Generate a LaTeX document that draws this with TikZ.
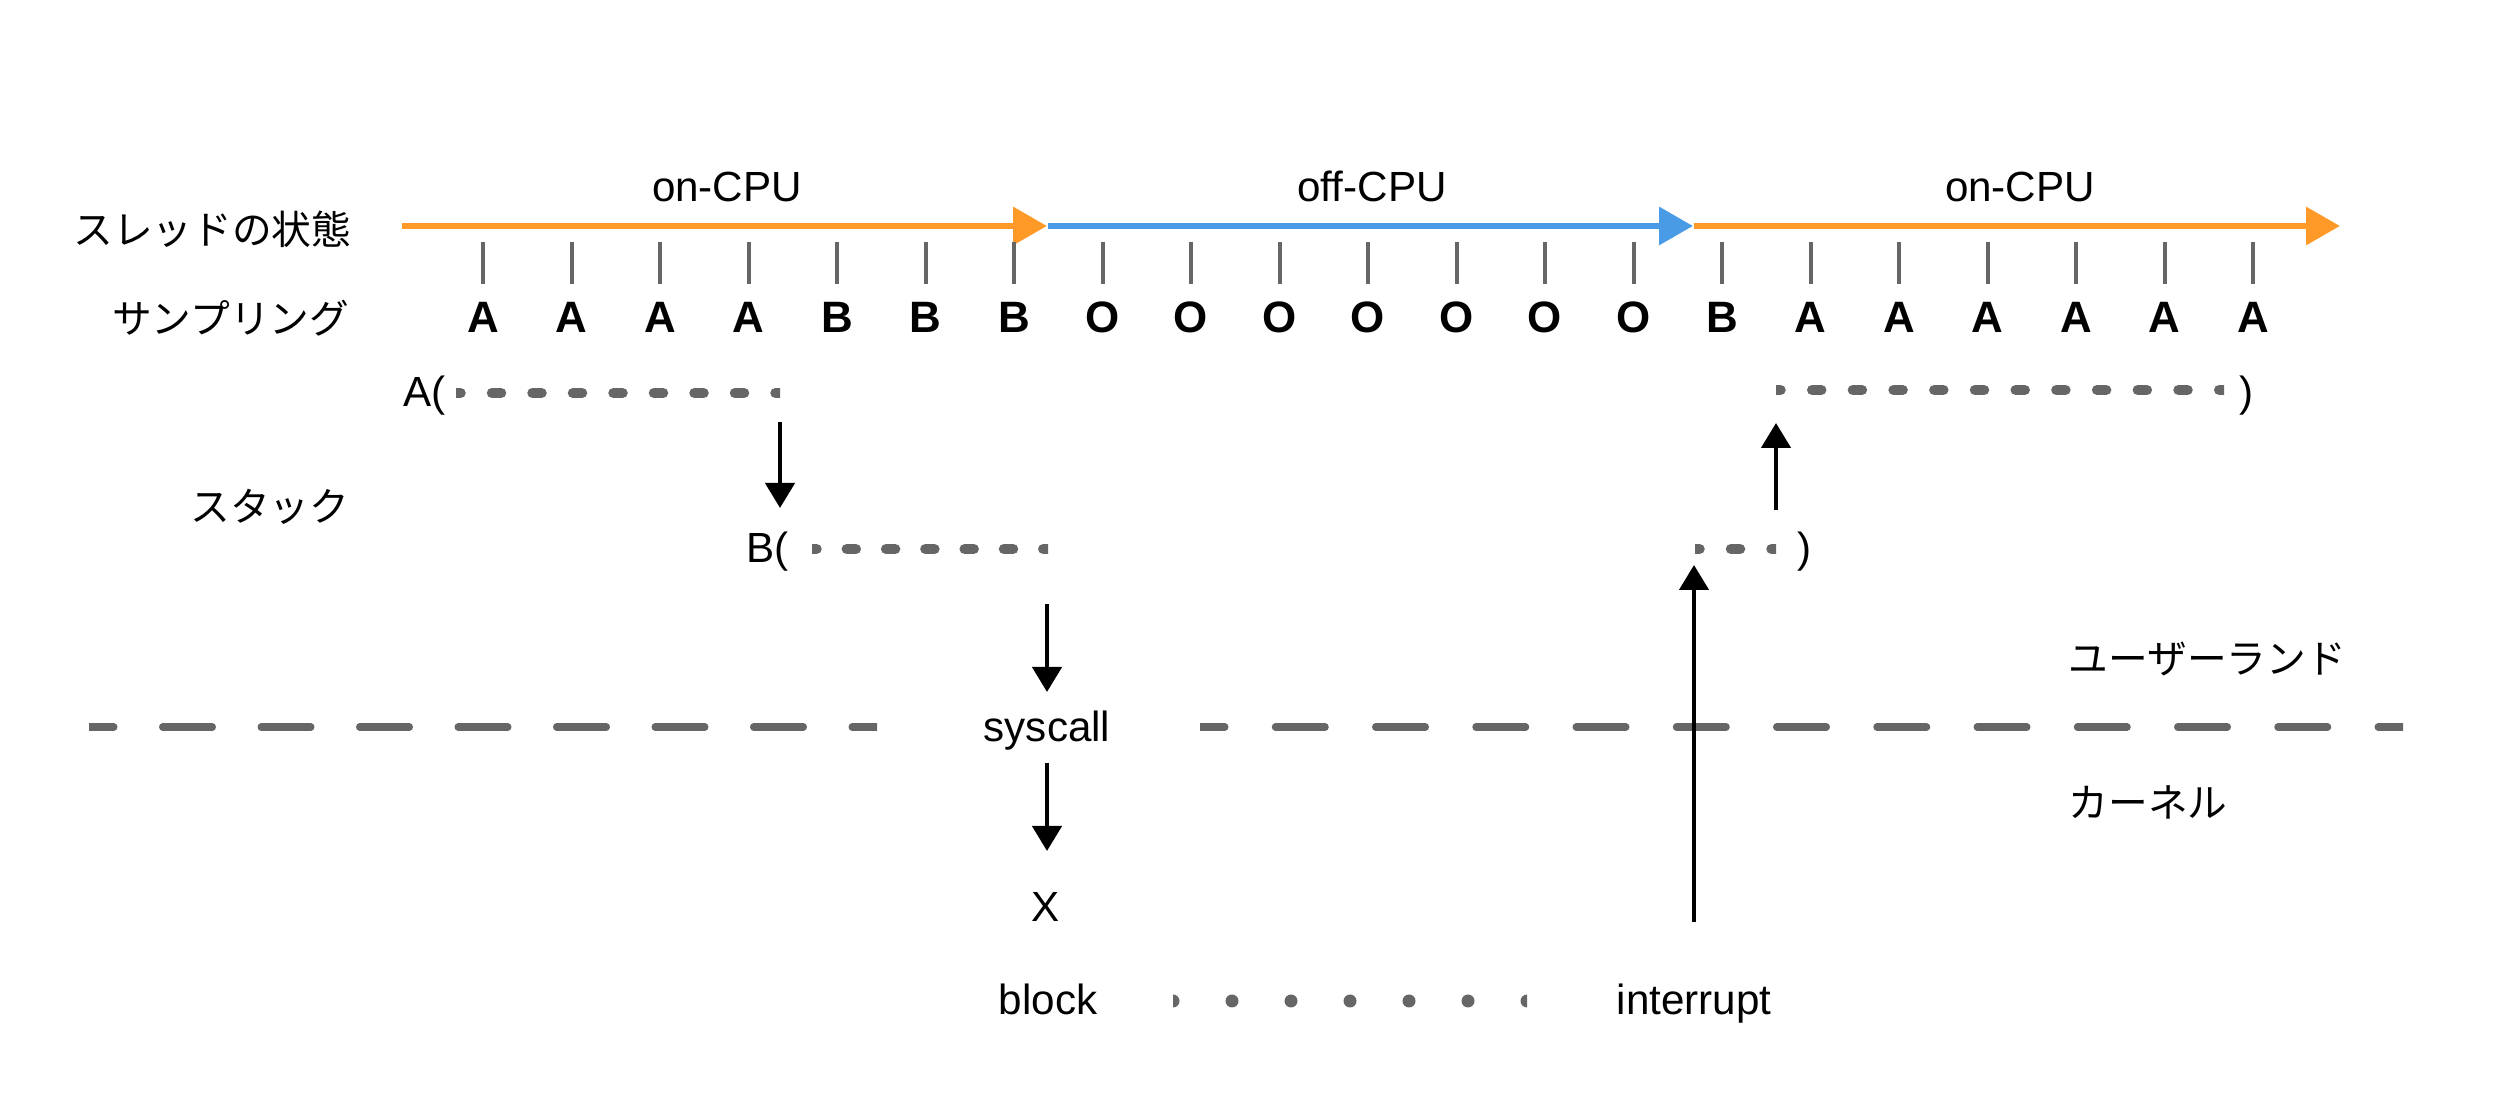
\documentclass[tikz,border=0pt]{standalone}
\usepackage{fontspec}
\setmainfont{Liberation Sans}
\newfontfamily\jpfont{Noto Sans CJK JP}
\usetikzlibrary{arrows.meta}
\definecolor{cpuorange}{RGB}{255,153,40}
\definecolor{cpublue}{RGB}{72,155,228}
\definecolor{linegray}{HTML}{666666}
% clipped dash line: #1 x start, #2 x end, #3 y, #4 style, #5 lead
\newcommand\clipline[5]{%
  \begin{scope}
    \clip (#1,#3-30) rectangle (#2,#3+30);
    \draw[#4] (#1-#5,#3) -- (#2+#5,#3);
  \end{scope}}
\begin{document}
\begin{tikzpicture}[x=0.1mm,y=-0.1mm,
  lbl/.style={inner sep=0pt, font=\fontsize{12}{14}\selectfont},
  jp/.style={inner sep=0pt, font=\jpfont\fontsize{11.3}{13}\selectfont},
  smp/.style={inner sep=0pt, anchor=base, font=\bfseries\fontsize{12.5}{14}\selectfont},
  tickmark/.style={draw=linegray, line width=0.4mm},
  stateline/.style={line width=0.65mm, -{Triangle[length=3.4mm,width=3.7mm]}},
  blk/.style={line width=0.45mm, -{Triangle[length=2.5mm,width=2.9mm]}},
  stackdots/.style={linegray, line width=1.05mm, line cap=round},
  sepdash/.style={linegray, line width=0.75mm, line cap=round},
  blockdots/.style={linegray, line width=1.3mm, line cap=round, dash pattern=on 0mm off 5.9mm}
]
\useasboundingbox (0,0) rectangle (2509,1097);

% thread state timeline
\coordinate (t0) at (402,226);
\coordinate (t1) at (1047,226);
\coordinate (t1b) at (1048,226);
\coordinate (t2) at (1693,226);
\coordinate (t2b) at (1694,226);
\coordinate (t3) at (2340,226);
\draw[stateline, cpuorange] (t0) -- (t1);
\draw[stateline, cpublue] (t1b) -- (t2);
\draw[stateline, cpuorange] (t2b) -- (t3);

\node[lbl, anchor=base] (on1) at (727,202) {on-CPU};
\node[lbl, anchor=base] (off1) at (1372,202) {off-CPU};
\node[lbl, anchor=base] (on2) at (2020,202) {on-CPU};

% left labels
\node[jp, anchor=east] (lstate) at (352,229) {スレッドの状態};
\node[jp, anchor=east] (lsamp) at (350,318) {サンプリング};
\node[jp, anchor=east] (lstack) at (350,507) {スタック};
\node[jp, anchor=west] (luser) at (2068,659) {ユーザーランド};
\node[jp, anchor=west] (lkern) at (2068,802) {カーネル};

% ticks and samples
\foreach \s [count=\i from 0] in {A,A,A,A,B,B,B,O,O,O,O,O,O,O,B,A,A,A,A,A,A}{
  \pgfmathsetmacro\xx{483+88.5*\i}
  \draw[tickmark] (\xx,242) -- (\xx,284);
  \node[smp] (s\i) at (\xx,333) {\s};
}

% stack
\node[lbl, anchor=base west] (aopen) at (403,407) {A(};
\clipline{456}{780}{393}{stackdots, dash pattern=on 0.9mm off 3.15mm}{4.5}
\node[lbl, anchor=base west] (bopen) at (746,563) {B(};
\clipline{812}{1048}{549}{stackdots, dash pattern=on 0.9mm off 3.03mm}{4.5}
\clipline{1695}{1776}{549}{stackdots, dash pattern=on 0.9mm off 3.15mm}{4.5}
\node[lbl, anchor=base] (bclose) at (1804,563) {)};
\clipline{1776}{2224}{390}{stackdots, dash pattern=on 0.9mm off 3.17mm}{4.5}
\node[lbl, anchor=base] (aclose) at (2246,407) {)};

% user / kernel separator
\clipline{89}{877}{727}{sepdash, dash pattern=on 4.95mm off 4.9mm}{24.75}
\clipline{1200}{2403}{727}{sepdash, dash pattern=on 4.95mm off 5.075mm}{24.75}

\node[lbl, anchor=base] (syscall) at (1047,742) {syscall};
\node[lbl, anchor=base] (xnode) at (1046,922) {X};
\node[lbl, anchor=base] (block) at (1048,1015) {block};
\node[lbl, anchor=base] (intr) at (1694,1015) {interrupt};
\clipline{1173}{1527}{1001}{blockdots}{0}

% arrows
\coordinate (a1s) at (780,422);  \coordinate (a1e) at (780,508);
\coordinate (a2s) at (1047,604); \coordinate (a2e) at (1047,692);
\coordinate (a3s) at (1047,763); \coordinate (a3e) at (1047,851);
\coordinate (a4s) at (1694,922); \coordinate (a4e) at (1694,565);
\coordinate (a5s) at (1776,510); \coordinate (a5e) at (1776,423);
\draw[blk] (a1s) -- (a1e);
\draw[blk] (a2s) -- (a2e);
\draw[blk] (a3s) -- (a3e);
\draw[blk] (a4s) -- (a4e);
\draw[blk] (a5s) -- (a5e);
\end{tikzpicture}
\end{document}
